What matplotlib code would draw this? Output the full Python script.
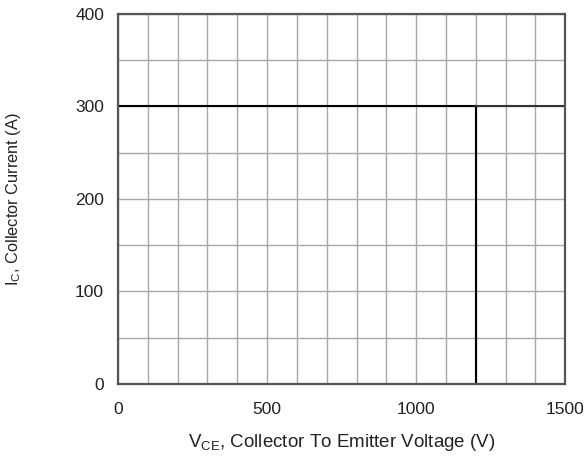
import matplotlib
matplotlib.use("Agg")
import matplotlib.pyplot as plt
from matplotlib.ticker import MultipleLocator

plt.rcParams['font.family'] = ['Liberation Sans', 'DejaVu Sans']
plt.rcParams['mathtext.fontset'] = 'custom'
plt.rcParams['mathtext.rm'] = 'Liberation Sans'

# safe operating area boundary
vce = [0, 1200, 1200]
ic = [300, 300, 0]
# horizontal limit continues to the edge
vce_ext = [1200, 1500]
ic_ext = [300, 300]

x_ticks = [0, 500, 1000, 1500]
y_ticks = [0, 100, 200, 300, 400]

fig = plt.figure(figsize=(5.87, 4.61), dpi=100)
ax = fig.add_axes([0.201, 0.167, 0.762, 0.803])

ax.set_xlim(0, 1500)
ax.set_ylim(0, 400)
ax.set_xticks(x_ticks)
ax.set_yticks(y_ticks)
ax.xaxis.set_minor_locator(MultipleLocator(100))
ax.yaxis.set_minor_locator(MultipleLocator(50))
ax.grid(which='both', color='#a8a8a8', linewidth=1.0)
ax.set_axisbelow(True)
ax.tick_params(which='both', length=0, labelsize=12.5, colors='#222222')
ax.tick_params(axis='x', pad=13)
ax.tick_params(axis='y', pad=10)

for s in ax.spines.values():
    s.set_color('#555555')
    s.set_linewidth(1.6)

ax.plot(vce, ic, color='black', linewidth=1.5)
ax.plot(vce_ext, ic_ext, color='#333333', linewidth=1.5)

ax.set_xlabel(r"$\mathregular{V_{CE}}$, Collector To Emitter Voltage (V)", fontsize=13.5, color='#222222')
ax.set_ylabel(r"$\mathregular{I_{C}}$, Collector Current (A)", fontsize=11.8, color='#222222')
ax.xaxis.set_label_coords(0.5, -0.13)
ax.yaxis.set_label_coords(-0.213, 0.5)

fig.savefig("out.png", dpi=100)
